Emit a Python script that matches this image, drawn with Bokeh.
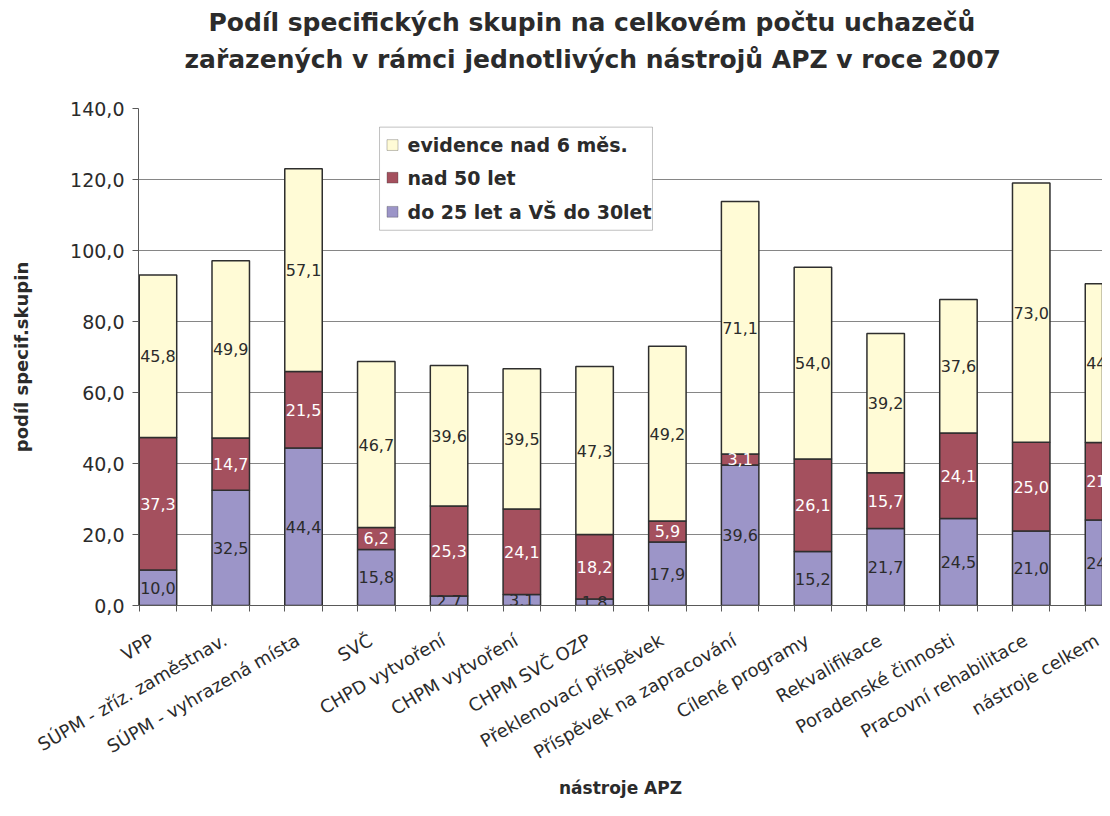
import math
from bokeh.plotting import figure
from bokeh.models import (Range1d, FixedTicker, CustomJSTickFormatter, Label, Title,
                          ColumnDataSource, BoxAnnotation)
from bokeh.core.properties import value
from bokeh.embed import file_html
from bokeh.resources import INLINE

# ---------------- data ----------------
categories = ["VPP", "SÚPM - zříz. zaměstnav.", "SÚPM - vyhrazená místa", "SVČ",
              "CHPD vytvoření", "CHPM vytvoření", "CHPM SVČ OZP", "Překlenovací příspěvek",
              "Příspěvek na zapracování", "Cílené programy", "Rekvalifikace",
              "Poradenské činnosti", "Pracovní rehabilitace", "nástroje celkem"]
do25 = [10.0, 32.5, 44.4, 15.8, 2.7, 3.1, 1.8, 17.9, 39.6, 15.2, 21.7, 24.5, 21.0, 24.1]
nad50 = [37.3, 14.7, 21.5, 6.2, 25.3, 24.1, 18.2, 5.9, 3.1, 26.1, 15.7, 24.1, 25.0, 21.8]
evid = [45.8, 49.9, 57.1, 46.7, 39.6, 39.5, 47.3, 49.2, 71.1, 54.0, 39.2, 37.6, 73.0, 44.7]
series_names = ["do 25 let a VŠ do 30let", "nad 50 let", "evidence nad 6 měs."]
y_ticks = [0, 20, 40, 60, 80, 100, 120, 140]
title_lines = ["Podíl specifických skupin na celkovém počtu uchazečů",
               "zařazených v rámci jednotlivých nástrojů APZ v roce 2007"]
x_title = "nástroje APZ"
y_title = "podíl specif.skupin"

# ---------------- style ----------------
C_PURPLE = "#9C95C8"
C_RED = "#A4505E"
C_YELLOW = "#FFFBD6"
C_EDGE = "#2E2E2E"
C_TEXT = "#2B2B2B"
C_AXIS = "#595959"
FONT = "DejaVu Sans"

n = len(categories)
BAR_OFF = 0.01
BAR_W = 0.515
LBL_OFF = 0.19
xc = [i + BAR_OFF + BAR_W / 2 for i in range(n)]

p = figure(width=1102, height=800, x_range=Range1d(0, 13.247), y_range=Range1d(0, 140),
           output_backend="svg", toolbar_location=None, title=None,
           min_border_left=138, min_border_right=0, min_border_top=108, min_border_bottom=186)
p.outline_line_color = None
p.background_fill_color = "white"
p.border_fill_color = "white"

src = ColumnDataSource(dict(x=xc, do25=do25, nad50=nad50, evid=evid))
p.vbar_stack(["do25", "nad50", "evid"], x="x", width=BAR_W, source=src,
             fill_color=[C_PURPLE, C_RED, C_YELLOW], line_color=C_EDGE, line_width=1.5)

# value labels
lx, ly, lt, lc = [], [], [], []
for i in range(n):
    base = 0.0
    for vals, col in ((do25, C_TEXT), (nad50, "white"), (evid, C_TEXT)):
        v = vals[i]
        lx.append(xc[i])
        ly.append(base + v / 2)
        lt.append(f"{v:.1f}".replace(".", ","))
        lc.append(col)
        base += v
p.text(x=lx, y=ly, text=lt, text_color=lc, text_font=value(FONT),
       text_font_size=value("16px"), text_align="center", text_baseline="middle")

# grid
p.xgrid.visible = False
p.ygrid.ticker = FixedTicker(ticks=y_ticks)
p.ygrid.grid_line_color = "#868686"
p.ygrid.grid_line_width = 1

# y axis
p.yaxis.ticker = FixedTicker(ticks=y_ticks)
p.yaxis.formatter = CustomJSTickFormatter(code="return tick.toFixed(1).replace('.', ',');")
p.yaxis.major_label_text_font = FONT
p.yaxis.major_label_text_font_size = "19px"
p.yaxis.major_label_text_color = C_TEXT
p.yaxis.major_label_standoff = 8
p.yaxis.axis_line_color = C_AXIS
p.yaxis.major_tick_line_color = C_AXIS
p.yaxis.major_tick_out = 6
p.yaxis.major_tick_in = 0
p.yaxis.minor_tick_line_color = None
p.yaxis.axis_label = y_title
p.yaxis.axis_label_text_font = FONT
p.yaxis.axis_label_text_font_size = "18px"
p.yaxis.axis_label_text_font_style = "bold"
p.yaxis.axis_label_text_color = C_TEXT
p.yaxis.axis_label_standoff = 35

# x axis: labels at category positions, tick marks at bar edges
edges = sorted([i + BAR_OFF for i in range(n)] + [i + BAR_OFF + BAR_W for i in range(n)])
p.xaxis.ticker = FixedTicker(ticks=[i + LBL_OFF for i in range(n)], minor_ticks=edges)
p.xaxis.formatter = CustomJSTickFormatter(
    args=dict(names=categories, off=LBL_OFF),
    code="const i = Math.round(tick - off); return (i >= 0 && i < names.length) ? names[i] : '';")
p.xaxis.major_label_orientation = math.pi / 6
p.xaxis.major_label_text_font = FONT
p.xaxis.major_label_text_font_size = "18px"
p.xaxis.major_label_text_color = C_TEXT
p.xaxis.major_label_standoff = 27
p.xaxis.major_tick_out = 0
p.xaxis.major_tick_in = 0
p.xaxis.major_tick_line_color = None
p.xaxis.minor_tick_out = 6
p.xaxis.minor_tick_in = 0
p.xaxis.minor_tick_line_color = C_AXIS
p.xaxis.axis_line_color = C_AXIS
p.xaxis.axis_label = x_title
p.xaxis.axis_label_text_font = FONT
p.xaxis.axis_label_text_font_size = "17px"
p.xaxis.axis_label_text_font_style = "bold"
p.xaxis.axis_label_text_color = C_TEXT
p.xaxis.axis_label_standoff = 3

# two-line title (second line carries an empty trailing line as spacing to the plot area)
p.add_layout(Title(text=title_lines[1] + "\n", align="left", offset=46, standoff=12,
                   text_font=FONT, text_font_size="25px", text_font_style="bold",
                   text_color=C_TEXT), "above")
p.add_layout(Title(text=title_lines[0], align="left", offset=70, standoff=0,
                   text_font=FONT, text_font_size="25px", text_font_style="bold",
                   text_color=C_TEXT), "above")

# legend (manual)
p.add_layout(BoxAnnotation(left=3.312, right=7.063, bottom=105.7, top=134.75,
                           fill_color="white", fill_alpha=1.0,
                           line_color="#333333", line_width=1))
leg_y = [129.7, 120.5, 110.9]
leg_cols = [C_YELLOW, C_RED, C_PURPLE]
leg_names = [series_names[2], series_names[1], series_names[0]]
for yy, col, name in zip(leg_y, leg_cols, leg_names):
    p.add_layout(BoxAnnotation(left=3.415, right=3.566, bottom=yy - 1.52, top=yy + 1.52,
                               fill_color=col, fill_alpha=1.0,
                               line_color="#333333", line_width=1))
    p.add_layout(Label(x=3.697, y=yy, text=name, text_align="left",
                       text_baseline="middle", text_font=FONT, text_font_size="19px",
                       text_font_style="bold", text_color=C_TEXT))

open("out.html", "w").write(file_html(p, INLINE))
